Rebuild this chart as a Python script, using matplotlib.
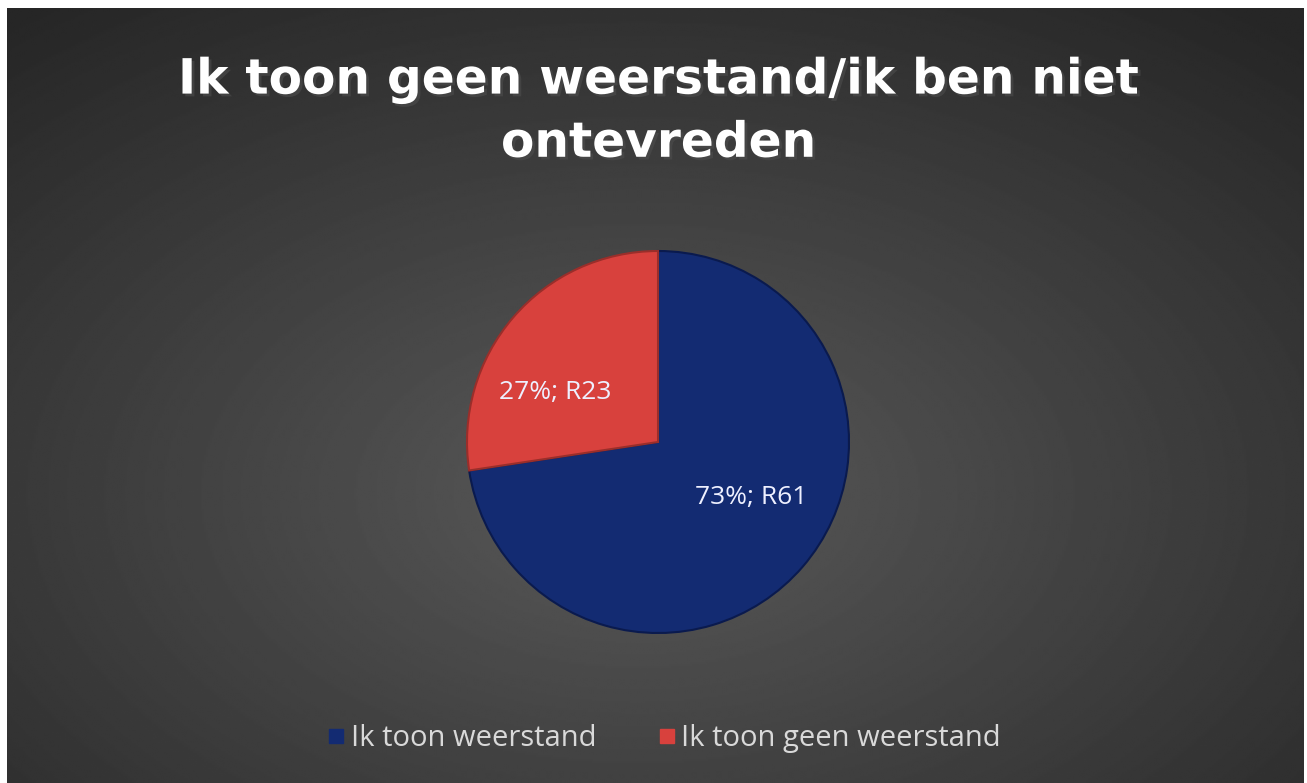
import numpy as np
import matplotlib.pyplot as plt
from matplotlib.lines import Line2D
import matplotlib.patheffects as pe

# data
categories = ["Ik toon weerstand", "Ik toon geen weerstand"]
counts = [61, 23]
labels = ["73%; R61", "27%; R23"]
colors = ["#132b72", "#d8413d"]
title = "Ik toon geen weerstand/ik ben niet\nontevreden"

W, H, dpi = 1307, 783, 100
fig = plt.figure(figsize=(W / dpi, H / dpi), dpi=dpi, facecolor="white")

# dark radial gradient background (white strip on top/left like the screenshot)
bg = fig.add_axes([7 / W, 0, (W - 10) / W, (H - 8) / H])
yy, xx = np.mgrid[0:400, 0:700]
d = np.hypot((xx - 340) / 560, (yy - 250) / 330)
shade = np.clip(0.35 - 0.21 * d, 0.15, 0.35)
bg.imshow(shade, cmap="gray", vmin=0, vmax=1, aspect="auto",
          interpolation="bilinear")
bg.axis("off")

# pie
cx, cy, r = 658, 442, 191
ax = fig.add_axes([(cx - r) / W, (H - cy - r) / H, 2 * r / W, 2 * r / H])
wedges, _ = ax.pie(counts, colors=colors, startangle=90, counterclock=False,
                   wedgeprops=dict(edgecolor="#0a1a4e", linewidth=1.5))
wedges[1].set_edgecolor("#9a2e2a")
ax.set_xlim(-1, 1)
ax.set_ylim(-1, 1)
ax.set_aspect("auto")
ax.axis("off")

# data labels (Excel puts them roughly here)
label_pos = [(0.49, -0.29), (-0.54, 0.26)]
for (x, y), t in zip(label_pos, labels):
    ax.text(x, y, t, ha="center", va="center", color="#eef0ff",
            fontsize=19, family="Open Sans")

fig.text(0.504, 0.858, title, ha="center", va="center", color="white",
         fontsize=35, fontweight="bold", family="DejaVu Sans",
         linespacing=1.4,
         path_effects=[pe.withSimplePatchShadow(offset=(2, -2), alpha=0.6)])

handles = [Line2D([], [], marker="s", ls="", markersize=10, color=c)
           for c in colors]
leg = fig.legend(handles, categories, loc="center", bbox_to_anchor=(0.506, 0.057),
                 ncol=2, frameon=False, handletextpad=0.0, columnspacing=1.9,
                 handlelength=1.0,
                 prop=dict(family="Open Sans", size=21))
for t in leg.get_texts():
    t.set_color("#d9d9d9")

fig.savefig("out.png", dpi=dpi, facecolor=fig.get_facecolor())
